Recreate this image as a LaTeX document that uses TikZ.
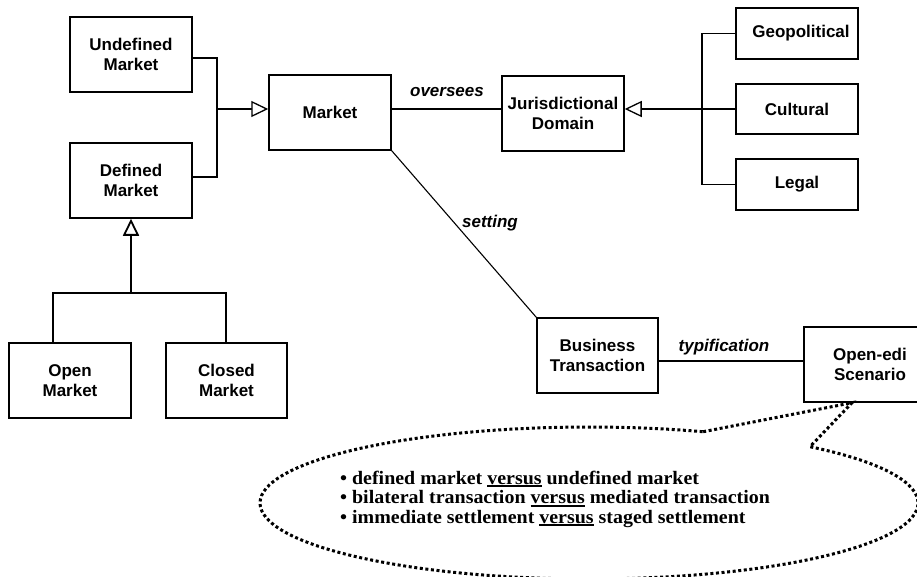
\documentclass[tikz,border=0pt]{standalone}
\usepackage{fontspec}
\usetikzlibrary{arrows.meta}
\newfontfamily\boxfont{Liberation Sans}
\newfontfamily\notefont[FakeStretch=1.05]{Liberation Serif}
% thick underline for the contrasted word
\newcommand\vsline[1]{\setbox0\hbox{#1}\rlap{\rule[-3pt]{\wd0}{1.7pt}}\box0\relax}

\begin{document}
\begin{tikzpicture}[x=1pt,y=-1pt,
  box/.style={draw, line width=1.5pt, minimum width=122pt, minimum height=75pt,
    inner sep=2pt, align=center, font=\boxfont\bfseries\fontsize{17}{20}\selectfont},
  small/.style={box, minimum height=51pt},
  rel/.style={line width=1.3pt},
  gen/.style={rel, -{Triangle[length=17pt,width=16pt,fill=white]}},
  lbl/.style={font=\boxfont\bfseries\itshape\fontsize{17}{20}\selectfont, inner sep=0pt},
  callout/.style={line width=3pt, dash pattern=on 3pt off 2.6pt}]
\clip (0,0) rectangle (917,576);

% classes
\node[box] (und) at (131,54.5) {Undefined\\Market};
\node[box] (def) at (131,180.5) {Defined\\Market};
\node[box] (mkt) at (330,112.5) {Market};
\node[box] (jur) at (563,113.5) {Jurisdictional\\Domain};
\node[small] (geo) at (797,33.5) {\hspace*{8pt}Geopolitical};
\node[small, minimum height=50pt] (cul) at (797,109) {Cultural};
\node[small] (leg) at (797,184.5) {Legal};
\node[box] (open) at (70,380.5) {Open\\Market};
\node[box, minimum width=121pt] (closed) at (226.5,380.5) {Closed\\Market};
\node[box, minimum width=121pt] (bt) at (597.5,355.5) {Business\\Transaction};
\node[box, minimum width=132pt] (oes) at (870,364.5) {Open-edi\\Scenario};

% junction points of the generalisation trees
\coordinate (mj) at (217,109);
\coordinate (jj) at (702,109);
\coordinate (dj) at (131,293);
\coordinate (ol) at (53,293);
\coordinate (cl) at (226,293);
\coordinate (ty) at (700,361);

% market kinds
\draw[rel] ([yshift=-3.5pt]und.east) -- ([yshift=-3.5pt]und.east -| mj)
  -- ([yshift=3.5pt]def.east -| mj) -- ([yshift=3.5pt]def.east);
\draw[gen] (mj) -- (mkt.west |- mj);

% jurisdiction kinds
\draw[rel] (geo.west) -- (geo.west -| jj) -- (leg.west -| jj) -- (leg.west);
\draw[gen] (cul.west) -- (jur.east |- cul.west);

% defined market kinds
\draw[rel] (open.north -| ol) -- (ol) -- (cl) -- (closed.north -| cl);
\draw[gen, line width=1.8pt] (dj) -- (def.south);

% associations
\draw[rel] (mkt.east |- mj) -- (jur.west |- mj);
\node[lbl] (ov) at (447,92) {oversees};
\draw[rel, line width=1.1pt] (mkt.south east) -- (bt.north west);
\node[lbl] (st) at (490,223) {setting};
\draw[rel] (bt.east |- ty) -- (oes.west |- ty);
\node[lbl] (tp) at (724,347) {typification};

% note callout
\coordinate (ca) at ({589+329*cos(-69.7)},{503+76*sin(-69.7)});
\coordinate (cb) at ({589+329*cos(-47.8)},{503+76*sin(-47.8)});
\coordinate (ct) at ([xshift=-18pt]oes.south);
\draw[callout] (ca) -- (ct) -- (cb)
  arc[start angle=-47.8, end angle=290.3, x radius=329, y radius=76] -- cycle;
\node[anchor=west, align=left, inner sep=0pt,
  font=\notefont\bfseries\fontsize{19}{19.5}\selectfont] (notes) at (340,499)
  {• defined market \vsline{versus} undefined market\\
   • bilateral transaction \vsline{versus} mediated transaction\\
   • immediate settlement \vsline{versus} staged settlement};
\end{tikzpicture}
\end{document}
